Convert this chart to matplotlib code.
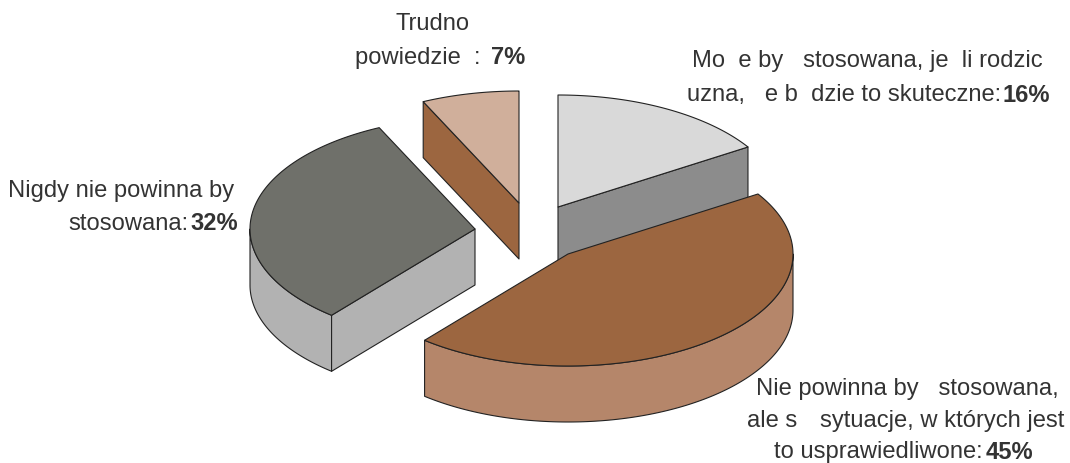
import numpy as np
import matplotlib
matplotlib.use("Agg")
import matplotlib.pyplot as plt

values = [16, 45, 32, 7]
top_colors = ["#D9D9D9", "#9C6640", "#6F706A", "#D0AF9B"]
wall_colors = ["#8C8C8C", "#B5866A", "#B2B2B2", "#9C6640"]
centers = [(558, 208), (568, 255), (475, 230), (519, 204)]
RX, RY, DEPTH = 225, 112, 56

plt.rcParams["font.family"] = ["Liberation Sans", "DejaVu Sans"]
fig = plt.figure(figsize=(10.7, 4.64), dpi=100)
ax = fig.add_axes([0, 0, 1, 1])
ax.set_xlim(0, 1070)
ax.set_ylim(464, 0)
ax.axis("off")

def pt(c, a):
    a = np.asarray(a, dtype=float)
    return c[0] + RX * np.sin(a), c[1] - RY * np.cos(a)

LW = 0.8
EC = "#222222"

def poly(xs, ys, fc, z):
    ax.fill(xs, ys, facecolor=fc, edgecolor=EC, linewidth=LW, zorder=z, joinstyle="round")

total = sum(values)
start = 0.0
for i, (v, c) in enumerate(zip(values, centers)):
    end = start + 2 * np.pi * v / total
    z = i + 1
    # outer wall: the part of the rim facing the viewer
    lo, hi = max(start, np.pi / 2), min(end, 3 * np.pi / 2)
    if hi > lo:
        wx, wy = pt(c, np.linspace(lo, hi, 200))
        poly(np.r_[wx, wx[::-1]], np.r_[wy, wy[::-1] + DEPTH], wall_colors[i], z)
    # radial cut faces that turn toward the viewer
    for a, sign in ((start, -1), (end, 1)):
        if sign * np.sin(a) > 1e-6:
            x1, y1 = pt(c, a)
            poly([c[0], x1, x1, c[0]], [c[1], y1, y1 + DEPTH, c[1] + DEPTH], wall_colors[i], z)
    ax_, ay_ = pt(c, np.linspace(start, end, 200))
    poly(np.r_[c[0], ax_], np.r_[c[1], ay_], top_colors[i], z + 0.5)
    start = end

labels = [
    (395, 24, "Trudno", "normal"),
    (355, 58, "powiedzie  :", "normal"),
    (491, 58, "7%", "bold"),
    (692, 61, "Mo  e by   stosowana, je  li rodzic", "normal"),
    (687, 95, "uzna,   e b  dzie to skuteczne:", "normal"),
    (1002, 95, "16%", "bold"),
    (8, 191, "Nigdy nie powinna by", "normal"),
    (68, 224, "stosowana:", "normal"),
    (190, 224, "32%", "bold"),
    (756, 389, "Nie powinna by   stosowana,", "normal"),
    (747, 421, "ale s", "normal"),
    (820, 421, "sytuacje, w których jest", "normal"),
    (774, 452.5, "to usprawiedliwone:", "normal"),
    (986, 452.5, "45%", "bold"),
]
for x, y, s, w in labels:
    ax.text(x, y, s, fontsize=17.1, fontweight=w, color="#333333", ha="left", va="center", zorder=10)

fig.savefig("out.png", dpi=100)
